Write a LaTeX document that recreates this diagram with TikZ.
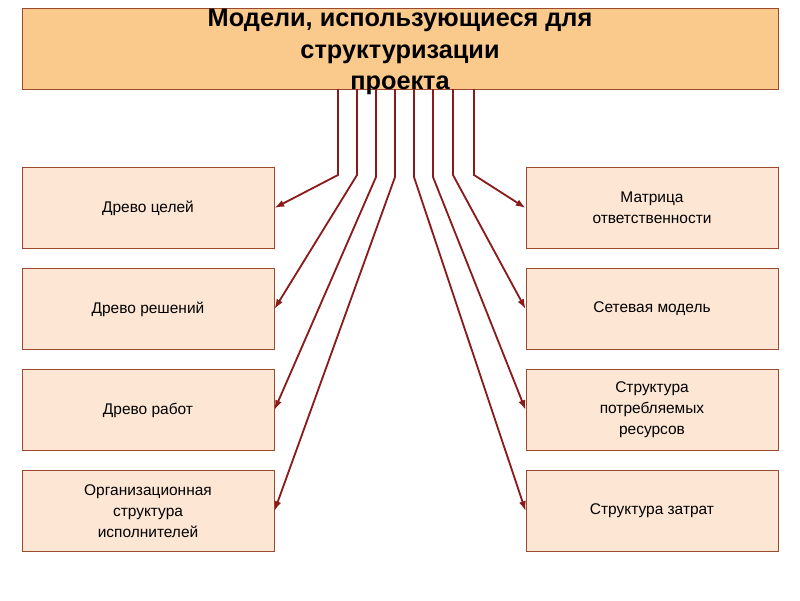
\documentclass[tikz,border=0pt]{standalone}
\usepackage{fontspec}
\setmainfont{Liberation Sans}
\usetikzlibrary{positioning,arrows.meta}
\definecolor{titlefill}{HTML}{FAC98C}
\definecolor{boxfill}{HTML}{FDE6D3}
\definecolor{boxline}{HTML}{9C4A2E}
\definecolor{linkred}{HTML}{8B1A1A}
\begin{document}
\begin{tikzpicture}[x=0.025cm,y=-0.025cm,
    itembox/.style={draw=boxline,fill=boxfill,line width=0.6pt,minimum width=252*0.025cm,
        minimum height=81*0.025cm,align=center,font=\fontsize{11}{15}\selectfont,inner sep=0pt},
    link/.style={draw=linkred,line width=1.3pt,-{Latex[length=7pt,width=5pt]}}]
\useasboundingbox (0,0) rectangle (800,600);
\node[draw=boxline,fill=titlefill,minimum width=756*0.025cm,minimum height=81*0.025cm,anchor=north west,inner sep=0pt] (title) at (22,8) {};
\node[font=\bfseries\fontsize{18}{22.5}\selectfont,align=center] (titletext) at (400,52) {Модели, использующиеся для\\структуризации\\проекта};
% left column
\node[itembox] (goals) at (148,208) {Древо целей};
\node[itembox] (decisions) at (148,309) {Древо решений};
\node[itembox] (works) at (148,410) {Древо работ};
\node[itembox] (org) at (148,511) {Организационная\\структура\\исполнителей};
% right column
\node[itembox] (matrix) at (652,208) {Матрица\\ответственности};
\node[itembox] (network) at (652,309) {Сетевая модель};
\node[itembox] (resources) at (652,410) {Структура\\потребляемых\\ресурсов};
\node[itembox] (costs) at (652,511) {Структура затрат};
% connectors
\draw[link] (338,89) -- (338,175) -- (goals.east);
\draw[link] (357,89) -- (357,175) -- (decisions.east);
\draw[link] (376,89) -- (376,177) -- (works.east);
\draw[link] (395,89) -- (395,177) -- (org.east);
\draw[link] (414,89) -- (414,177) -- (costs.west);
\draw[link] (433,89) -- (433,177) -- (resources.west);
\draw[link] (453,89) -- (453,175) -- (network.west);
\draw[link] (474,89) -- (474,175) -- (matrix.west);
\end{tikzpicture}
\end{document}
